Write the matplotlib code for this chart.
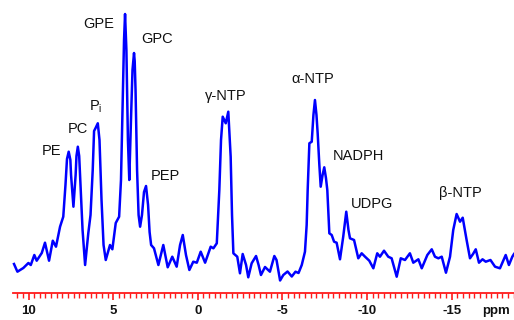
import numpy as np
import matplotlib
matplotlib.use('Agg')
import matplotlib.pyplot as plt
from matplotlib.ticker import FixedLocator

plt.rcParams['font.family'] = ['Liberation Sans', 'DejaVu Sans']
plt.rcParams['axes.unicode_minus'] = False

# 31P spectrum (chemical shift in ppm, intensity in a.u.)
ppm = [10.86, 10.66, 10.31, 10.01, 9.87, 9.66, 9.52, 9.22, 9.03, 8.79,
       8.57, 8.38, 8.14, 7.95, 7.82, 7.73, 7.63, 7.53, 7.49, 7.35,
       7.22, 7.17, 7.09, 7.01, 6.96, 6.81, 6.66, 6.47, 6.34, 6.21,
       6.13, 6.04, 5.91, 5.81, 5.69, 5.57, 5.44, 5.19, 5.05, 4.85,
       4.65, 4.54, 4.45, 4.36, 4.30, 4.22, 4.13, 4.05, 3.95, 3.86,
       3.77, 3.73, 3.68, 3.59, 3.50, 3.41, 3.30, 3.18, 3.06, 2.94,
       2.85, 2.76, 2.59, 2.33, 2.04, 1.78, 1.51, 1.25, 1.05, 0.89,
       0.70, 0.50, 0.27, 0.06, -0.17, -0.43, -0.76, -0.92, -1.12, -1.27,
       -1.37, -1.47, -1.65, -1.80, -1.94, -2.02, -2.10, -2.33, -2.49, -2.65,
       -2.85, -2.98, -3.18, -3.44, -3.59, -3.73, -3.97, -4.26, -4.52, -4.65,
       -4.86, -5.05, -5.30, -5.55, -5.77, -5.95, -6.14, -6.33, -6.43, -6.49,
       -6.59, -6.73, -6.83, -6.92, -7.01, -7.08, -7.18, -7.26, -7.37, -7.47,
       -7.57, -7.65, -7.77, -7.91, -8.05, -8.20, -8.40, -8.59, -8.77, -8.90,
       -8.99, -9.23, -9.48, -9.68, -9.88, -10.13, -10.37, -10.60, -10.76, -11.00,
       -11.25, -11.45, -11.75, -11.99, -12.24, -12.53, -12.73, -13.03, -13.23, -13.56,
       -13.82, -14.01, -14.21, -14.41, -14.66, -14.90, -15.09, -15.29, -15.49, -15.65,
       -15.88, -16.08, -16.26, -16.42, -16.61, -16.82, -17.01, -17.29, -17.56, -17.85,
       -18.19, -18.38, -18.58, -18.68]
intensity = [29, 21.3, 25, 30, 28, 38, 32.3, 40, 50.3, 32.3,
             52.3, 46.3, 66.3, 76.3, 108, 134, 141.3, 133, 118, 86.3,
             118, 137, 146.3, 137, 118, 63, 28, 60, 78, 123,
             162, 165, 169.7, 153, 93, 48, 33, 48, 43.7, 70,
             76.3, 113, 183, 253, 279, 243, 153, 113, 173, 223,
             240, 232, 203, 123, 78, 66.3, 78, 101, 107, 88,
             61, 48, 44.7, 28, 48, 25.7, 36.3, 26.3, 48, 58,
             38, 23, 31.3, 30.3, 41.3, 30.3, 46.3, 44.7, 49.7, 103,
             153, 176.3, 169.7, 181.3, 136.3, 78, 39.7, 36.3, 19.7, 39,
             28, 15.7, 29.7, 37, 28, 18, 26, 21.3, 37, 33,
             12.5, 18, 21.5, 16.5, 21.3, 20, 28, 41.3, 68, 103,
             149.7, 151.3, 178, 193, 178, 159.7, 128, 106.3, 118, 125.7,
             115, 103, 59.7, 58, 51.3, 50.3, 33.7, 56.3, 81.3, 63,
             54.7, 53, 34.7, 39.7, 36.3, 32.3, 24.7, 39.7, 36.3, 42.3,
             36.3, 34.7, 16.3, 34.7, 33, 39.7, 30.3, 33.7, 24.7, 38,
             43.7, 36.3, 34.7, 36.3, 20.3, 36.3, 63, 79, 71.3, 75.3,
             53, 34.7, 39, 43.7, 30.3, 33.7, 31.3, 33, 26.3, 24.7,
             38, 28, 36.3, 39]

# peak labels: text, ppm, baseline height
labels = ['PE', 'PC', 'GPE', 'GPC', 'PEP', 'γ-NTP', 'α-NTP', 'NADPH', 'UDPG', 'β-NTP']
label_ppm = [8.67, 7.07, 5.87, 2.41, 1.94, -1.67, -6.81, -9.46, -10.29, -15.49]
label_y = [138, 160, 265, 250, 113, 193, 210, 133, 85, 96]

major_ticks = [10, 5, 0, -5, -10, -15]

fig = plt.figure(figsize=(5.14, 3.2), dpi=100)
ax = fig.add_axes([13 / 514, 27 / 320, 501 / 514, 293 / 320])

ax.plot(ppm, intensity, color='#0000ff', lw=1.8, solid_joinstyle='round', clip_on=False)

for t, x, y in zip(labels, label_ppm, label_y):
    ax.text(x, y, t, ha='center', va='baseline', fontsize=10.5, color='#111111')
ax.text(6.43, 183, 'P$_\\mathregular{i}$', ha='left', va='baseline', fontsize=10.5, color='#111111')

ax.set_xlim(10.92, -18.68)
ax.set_ylim(0, 293)

for s in ['left', 'right', 'top']:
    ax.spines[s].set_visible(False)
ax.spines['bottom'].set_color('#ff1a1a')
ax.spines['bottom'].set_linewidth(1.3)
ax.set_yticks([])

ax.xaxis.set_major_locator(FixedLocator(major_ticks))
ax.xaxis.set_minor_locator(FixedLocator(np.arange(-56, 33) / 3))
ax.tick_params(axis='x', which='major', length=5, width=1.2, color='#ff1a1a',
               labelsize=9.5, pad=4)
ax.tick_params(axis='x', which='minor', length=3.5, width=1.0, color='#ff1a1a')
for lab in ax.get_xticklabels():
    lab.set_fontweight('bold')
    lab.set_color('#111111')

ax.text(-17.61, -0.063, 'ppm', transform=ax.get_xaxis_transform(),
        ha='center', va='center', fontsize=9.5, fontweight='bold', color='#111111')

fig.savefig('out.png', dpi=100)
